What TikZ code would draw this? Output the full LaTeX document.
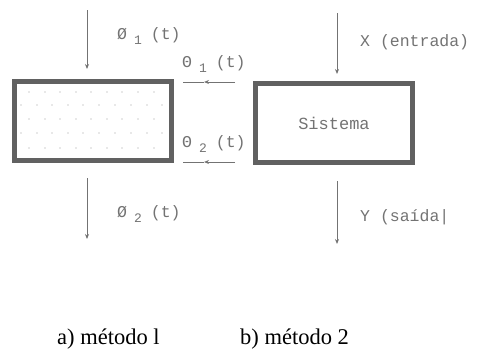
\documentclass[tikz,border=0pt]{standalone}
\usepackage{fontspec}
\setmainfont{Liberation Serif}
\newfontfamily\lblfont{Liberation Mono}
\usetikzlibrary{arrows.meta}
\definecolor{boxgray}{gray}{0.38}
\definecolor{lblgray}{gray}{0.45}
\tikzset{
  thickbox/.style={draw=boxgray, line width=5pt},
  flow/.style={draw=lblgray, line width=0.9pt, -{Stealth[length=5pt,width=4pt]}},
  plainline/.style={draw=lblgray, line width=1pt},
  lbl/.style={text=lblgray, font=\lblfont\fontsize{16.5}{18}\selectfont, inner sep=0pt, anchor=west},
  captext/.style={font=\fontsize{22.5}{26}\selectfont, inner sep=0pt, anchor=base west},
  dot/.style={fill=lblgray!70, circle, inner sep=0pt, minimum size=1.4pt}
}
\newcommand{\sbs}[1]{\hspace{7pt}\raisebox{-5pt}{\fontsize{13}{14}\selectfont #1}\hspace{9pt}}
\begin{document}
\begin{tikzpicture}[x=1pt,y=-1pt]
\useasboundingbox (0,0) rectangle (484,349);
% left box
\node[thickbox, minimum width=157pt, minimum height=79pt, inner sep=0pt] (box1) at (93,121) {};
\foreach \yy in {92,119,148} {\foreach \xx in {29,45,60,76,91,107,122,138,154} {\node[dot] at (\xx,\yy) {};}}
\foreach \yy in {105,133} {\foreach \xx in {21,37,52,68,83,99,115,131,147,162} {\node[dot] at (\xx,\yy) {};}}
% right box
\node[thickbox, minimum width=157pt, minimum height=79pt, inner sep=0pt] (box2) at (334,123) {};
\node[text=lblgray, font=\lblfont\fontsize{17}{19}\selectfont] (sis) at (box2.center) {Sistema};
% vertical arrows left
\coordinate (a1s) at (87,10);
\coordinate (a1e) at (87,69);
\draw[flow] (a1s) -- (a1e);
\node[lbl] (l1) at (117,36) {Ø\sbs{1}(t)};
\coordinate (a2s) at (87,178);
\coordinate (a2e) at (87,239);
\draw[flow] (a2s) -- (a2e);
\node[lbl] (l2) at (117,214) {Ø\sbs{2}(t)};
% horizontal arrows
\coordinate (h1s) at (235,82);
\coordinate (h1m) at (204,82);
\coordinate (h1e) at (183,82);
\draw[flow] (h1s) -- (h1m);
\draw[plainline] (h1m) -- (h1e);
\node[lbl] (l3) at (182,64) {Θ\sbs{1}(t)};
\coordinate (h2s) at (235,162);
\coordinate (h2m) at (204,162);
\coordinate (h2e) at (183,162);
\draw[flow] (h2s) -- (h2m);
\draw[plainline] (h2m) -- (h2e);
\node[lbl] (l4) at (182,144) {Θ\sbs{2}(t)};
% right arrows
\coordinate (xs) at (337,13);
\coordinate (xe) at (337,74);
\draw[flow] (xs) -- (xe);
\node[lbl] (lx) at (360,42) {X (entrada)};
\coordinate (ys) at (337,181);
\coordinate (ye) at (337,244);
\draw[flow] (ys) -- (ye);
\node[lbl] (ly) at (360,217) {Y (saída|};
% captions
\node[captext] (ca) at (57,344) {a) método l};
\node[captext] (cb) at (240,344) {b) método 2};
\end{tikzpicture}
\end{document}
